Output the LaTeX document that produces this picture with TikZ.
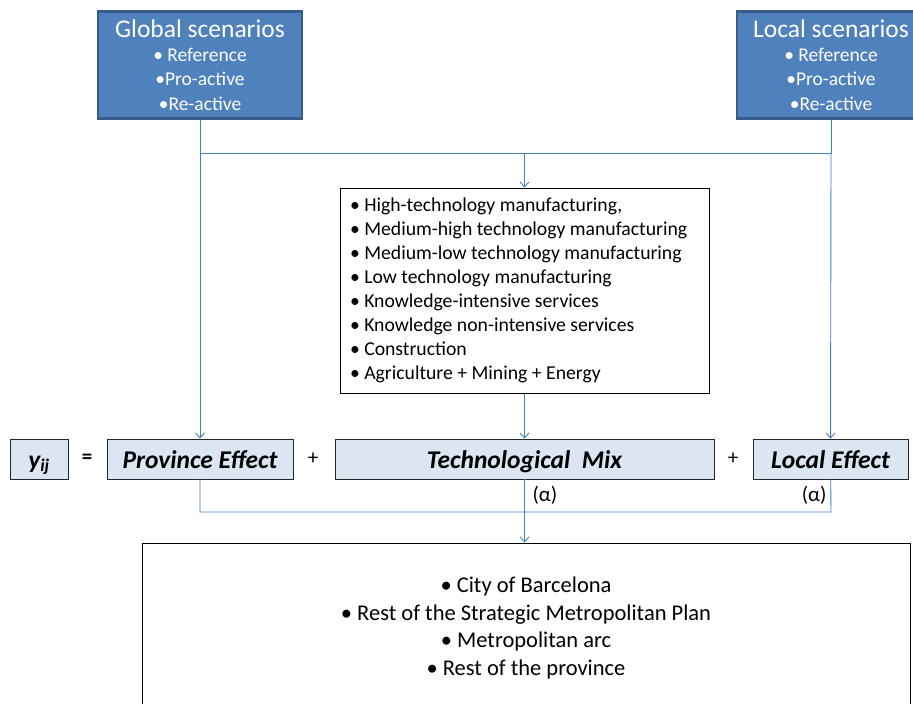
\documentclass[tikz,border=0pt]{standalone}
\usepackage{fontspec}
\setmainfont{Carlito}
\usetikzlibrary{arrows.meta}
\definecolor{scen}{HTML}{4F81BD}
\definecolor{scenrim}{HTML}{385D8A}
\definecolor{pale}{HTML}{DCE6F2}
\definecolor{wire}{HTML}{4A7EBB}
\tikzset{
  >={Straight Barb[length=5pt,width=9pt]},
  scenbox/.style={draw=scenrim, fill=scen, line width=2.5pt, text=white,
              minimum height=107pt, align=center, inner sep=0pt,
              font=\fontsize{19.5}{24.5}\selectfont},
  term/.style={draw=black!85, fill=pale, line width=0.8pt, minimum height=40pt,
              inner sep=0pt, text height=20pt, text depth=2pt,
              font=\fontsize{25.5}{28}\selectfont\bfseries\itshape},
  listbox/.style={draw=black, line width=1pt, inner sep=0pt, align=center},
  op/.style={font=\fontsize{21}{24}\selectfont},
  wire/.style={draw=wire, line width=0.9pt},
}

\begin{document}
\begin{tikzpicture}[x=1pt, y=-1pt]
    \useasboundingbox (0,0) rectangle (913,704);
    \clip (0,0) rectangle (913,704);
    % scenarios
    \node[scenbox, minimum width=204pt] (gs) at (200,65)
      {{\fontsize{25.5}{27}\selectfont Global scenarios}\\[-1pt]
       • Reference\\ •Pro-active\\ •Re-active};
    \node[scenbox, minimum width=188pt] (ls) at (831,65)
      {{\fontsize{25.5}{27}\selectfont Local scenarios}\\[-1pt]
       • Reference\\ •Pro-active\\ •Re-active};
    % sectors
    \node[listbox, minimum width=369pt, minimum height=205pt] (sec) at (524.5,290.5)
      {\begin{minipage}{349pt}\fontsize{19.7}{24}\selectfont\raggedright
       • High-technology manufacturing,\\
       • Medium-high technology manufacturing\\
       • Medium-low technology manufacturing\\
       • Low technology manufacturing\\
       • Knowledge-intensive services\\
       • Knowledge non-intensive services\\
       • Construction\\
       • Agriculture + Mining + Energy
       \end{minipage}};
    % equation
    \node[term, minimum width=58pt] (y) at (39,459) {y\textsubscript{ij}};
    \node[op, font=\fontsize{21}{24}\selectfont\bfseries] (eq) at (87,459) {=};
    \node[term, minimum width=186pt] (pe) at (200,459) {Province Effect};
    \node[op] (p1) at (313,459) {+};
    \node[term, minimum width=379pt] (tm) at (524.5,459) {Technological\ \ Mix};
    \node[op] (p2) at (733,459) {+};
    \node[term, minimum width=155pt] (le) at (830.5,459) {Local Effect};
    % areas
    \node[listbox, minimum width=768pt, minimum height=170pt,
          font=\fontsize{22.5}{27.5}\selectfont] (ar) at (526,628)
      {• City of Barcelona\\ • Rest of the Strategic Metropolitan Plan\\
       • Metropolitan arc\\ • Rest of the province};
    % connectors
    \coordinate (jg) at (200,153);
    \coordinate (jl) at (831,153);
    \coordinate (jp) at (200,512);
    \coordinate (jq) at (831,512);
    \draw[wire] (gs) -- (jg) -- (jl) -- (ls);
    \draw[wire, ->] (jg) -- (pe);
    \draw[wire, ->] (jl) -- (le);
    \draw[wire, ->] (sec.north |- jg) -- (sec);
    \draw[wire, ->] (sec) -- (tm);
    \draw[wire] (pe) -- (jp) -- (jq) -- (le);
    \draw[wire, ->] (tm) -- (tm.south |- ar.north);
    \node[op, font=\fontsize{21}{24}\selectfont, anchor=west] (a1) at (529,495) {(α)};
    \node[op, font=\fontsize{21}{24}\selectfont, anchor=east] (a2) at (830,495) {(α)};
\end{tikzpicture}
\end{document}
